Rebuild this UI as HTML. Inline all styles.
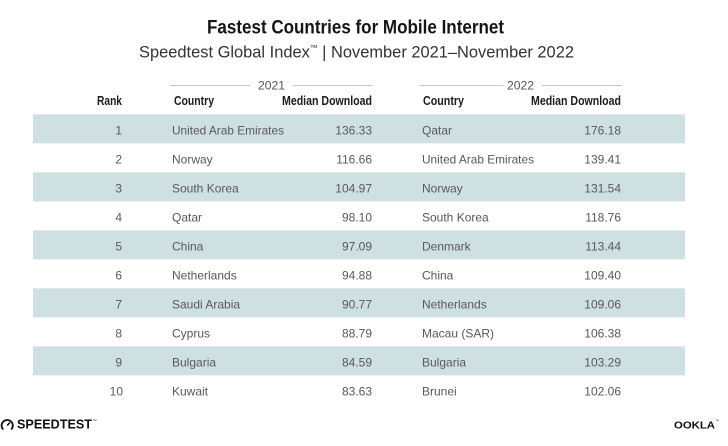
<!DOCTYPE html>
<html>
<head>
<meta charset="utf-8">
<style>
html,body{margin:0;padding:0;background:#fff;}
svg{display:block;}
text{font-family:"Liberation Sans",sans-serif;}
.h{font-weight:bold;fill:#1c1c1c;font-size:12.5px;}
.r{fill:#595959;font-size:12px;}
</style>
</head>
<body>
<svg width="728" height="446" viewBox="0 0 728 446" xmlns="http://www.w3.org/2000/svg">
<rect width="728" height="446" fill="#fff"/>
<!-- Title -->
<text x="207" y="33.5" font-size="19" font-weight="bold" fill="#151515" textLength="297" lengthAdjust="spacingAndGlyphs">Fastest Countries for Mobile Internet</text>
<text x="139" y="57.5" font-size="17" fill="#333" textLength="435" lengthAdjust="spacingAndGlyphs">Speedtest Global Index<tspan font-size="8" dy="-7">™</tspan><tspan dy="7"> | November 2021–November 2022</tspan></text>

<!-- Year group lines -->
<g stroke="#c8c8c8" stroke-width="1">
<line x1="170" y1="85.5" x2="250" y2="85.5"/>
<line x1="293" y1="85.5" x2="373" y2="85.5"/>
<line x1="419" y1="85.5" x2="503" y2="85.5"/>
<line x1="542" y1="85.5" x2="622" y2="85.5"/>
</g>
<text x="258" y="89.5" font-size="12" fill="#555" textLength="27" lengthAdjust="spacingAndGlyphs">2021</text>
<text x="507" y="89.5" font-size="12" fill="#555" textLength="27" lengthAdjust="spacingAndGlyphs">2022</text>

<!-- Headers -->
<text class="h" x="97" y="105" textLength="25" lengthAdjust="spacingAndGlyphs">Rank</text>
<text class="h" x="174" y="105" textLength="40" lengthAdjust="spacingAndGlyphs">Country</text>
<text class="h" x="282" y="105" textLength="90" lengthAdjust="spacingAndGlyphs">Median Download</text>
<text class="h" x="423" y="105" textLength="41" lengthAdjust="spacingAndGlyphs">Country</text>
<text class="h" x="531" y="105" textLength="90" lengthAdjust="spacingAndGlyphs">Median Download</text>

<!-- Bands -->
<g fill="#cfe0e3">
<rect x="33" y="114.3" width="652" height="29"/>
<rect x="33" y="172.3" width="652" height="29"/>
<rect x="33" y="230.3" width="652" height="29"/>
<rect x="33" y="288.3" width="652" height="29"/>
<rect x="33" y="346.3" width="652" height="29"/>
</g>

<!-- Rows -->
<g class="r">
<g text-anchor="end">
<text x="122" y="134.5">1</text>
<text x="122" y="163.5">2</text>
<text x="122" y="192.5">3</text>
<text x="122" y="221.5">4</text>
<text x="122" y="250.5">5</text>
<text x="122" y="279.5">6</text>
<text x="122" y="308.5">7</text>
<text x="122" y="337.5">8</text>
<text x="122" y="366.5">9</text>
<text x="123" y="395.5">10</text>

<text x="372" y="134.5">136.33</text>
<text x="372" y="163.5">116.66</text>
<text x="372" y="192.5">104.97</text>
<text x="372" y="221.5">98.10</text>
<text x="372" y="250.5">97.09</text>
<text x="372" y="279.5">94.88</text>
<text x="372" y="308.5">90.77</text>
<text x="372" y="337.5">88.79</text>
<text x="372" y="366.5">84.59</text>
<text x="372" y="395.5">83.63</text>

<text x="621" y="134.5">176.18</text>
<text x="621" y="163.5">139.41</text>
<text x="621" y="192.5">131.54</text>
<text x="621" y="221.5">118.76</text>
<text x="621" y="250.5">113.44</text>
<text x="621" y="279.5">109.40</text>
<text x="621" y="308.5">109.06</text>
<text x="621" y="337.5">106.38</text>
<text x="621" y="366.5">103.29</text>
<text x="621" y="395.5">102.06</text>
</g>

<text x="172" y="134.5" textLength="112" lengthAdjust="spacingAndGlyphs">United Arab Emirates</text>
<text x="172" y="163.5">Norway</text>
<text x="172" y="192.5">South Korea</text>
<text x="172" y="221.5">Qatar</text>
<text x="172" y="250.5">China</text>
<text x="172" y="279.5">Netherlands</text>
<text x="172" y="308.5">Saudi Arabia</text>
<text x="172" y="337.5">Cyprus</text>
<text x="172" y="366.5">Bulgaria</text>
<text x="172" y="395.5">Kuwait</text>

<text x="422" y="134.5">Qatar</text>
<text x="422" y="163.5" textLength="112" lengthAdjust="spacingAndGlyphs">United Arab Emirates</text>
<text x="422" y="192.5">Norway</text>
<text x="422" y="221.5">South Korea</text>
<text x="422" y="250.5">Denmark</text>
<text x="422" y="279.5">China</text>
<text x="422" y="308.5">Netherlands</text>
<text x="422" y="337.5">Macau (SAR)</text>
<text x="422" y="366.5">Bulgaria</text>
<text x="422" y="395.5">Brunei</text>
</g>

<!-- Footer: Speedtest logo -->
<path d="M3.2 429.5 A5.6 5.6 0 1 1 11.2 429.5" fill="none" stroke="#111" stroke-width="1.8"/>
<line x1="7.2" y1="425.5" x2="9.8" y2="422.5" stroke="#111" stroke-width="1.6"/>
<text x="17" y="428.6" font-size="12.5" font-weight="bold" fill="#111" textLength="75" lengthAdjust="spacingAndGlyphs">SPEEDTEST</text>
<text x="92.5" y="422" font-size="4" fill="#111">™</text>

<!-- Footer: Ookla logo -->
<text x="674" y="428.3" font-size="10.5" font-weight="bold" fill="#111" textLength="41" lengthAdjust="spacingAndGlyphs">OOKLA</text>
<text x="715.5" y="422" font-size="3.5" fill="#111">™</text>
</svg>
</body>
</html>
